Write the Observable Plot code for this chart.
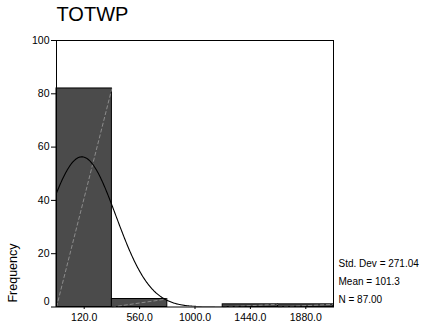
<!DOCTYPE html>
<html>
<head>
<meta charset="utf-8">
<script src="https://cdn.jsdelivr.net/npm/d3@7"></script>
<script src="https://cdn.jsdelivr.net/npm/@observablehq/plot@0.6"></script>
<style>
  body { margin: 0; background: #fff; }
  #chart svg { display: block; }
</style>
</head>
<body>
<div id="chart"></div>
<script>
// Histogram of TOTWP with fitted normal curve
const variableName = "TOTWP";
const binCenters = [120, 560, 1000, 1440, 1880];
const frequencies = [82, 3, 0, 1, 1];
const binWidth = 440;
const xTickLabels = ["120.0", "560.0", "1000.0", "1440.0", "1880.0"];
const yTicks = [0, 20, 40, 60, 80, 100];
const stdDev = 271.04;
const mean = 101.3;
const count = 87;
const statLines = [
  `Std. Dev = ${stdDev.toFixed(2)}`,
  `Mean = ${mean.toFixed(1)}`,
  `N = ${count.toFixed(2)}`
];

const bins = binCenters.map((c, i) => ({
  x1: c - binWidth / 2,
  x2: c + binWidth / 2,
  freq: frequencies[i]
}));
const filled = bins.filter(d => d.freq > 0);
const xMin = bins[0].x1;
const xMax = bins[bins.length - 1].x2;

// Normal density scaled to expected count per bin
const peak = count * binWidth / (stdDev * Math.sqrt(2 * Math.PI));
const curve = d3.range(xMin, xMax + 1, 5).map(x => ({
  x,
  y: peak * Math.exp(-0.5 * ((x - mean) / stdDev) ** 2)
}));

const chart = Plot.plot({
  width: 421,
  height: 330,
  marginLeft: 56,
  marginRight: 88,
  marginTop: 40,
  marginBottom: 23.5,
  style: { fontFamily: "'Liberation Sans', Arial, sans-serif", fontSize: "10px", background: "#fff" },
  x: { domain: [xMin, xMax] },
  y: { domain: [0, 100] },
  marks: [
    Plot.rect(filled, { x1: "x1", x2: "x2", y1: () => 0, y2: "freq", fill: "#4b4b4b", stroke: "#000", strokeWidth: 1 }),
    Plot.link(filled, { x1: "x1", y1: () => 0, x2: "x2", y2: "freq", stroke: "#a8a8a8", strokeWidth: 0.7, strokeDasharray: "4,2" }),
    Plot.line(curve, { x: "x", y: "y", stroke: "#000", strokeWidth: 1.1, clip: true }),
    Plot.frame({ stroke: "#000", strokeWidth: 1 }),
    Plot.axisY({ ticks: yTicks, tickSize: 5, tickPadding: 2, fontSize: 10.5, tickFormat: d => d === 0 ? "" : d, label: null }),
    Plot.text([0], { y: d => d, frameAnchor: "left", dx: -7, dy: -5, textAnchor: "end", fontSize: 10.5, text: d => String(d) }),
    Plot.axisX({ ticks: binCenters, tickSize: 2.5, tickPadding: 4, fontSize: 10.5, tickFormat: d => xTickLabels[binCenters.indexOf(d)], label: null }),
    Plot.text([variableName], { frameAnchor: "top-left", textAnchor: "start", lineAnchor: "bottom", dy: -20, fontSize: 20 }),
    Plot.text(["Frequency"], { frameAnchor: "bottom-left", rotate: -90, textAnchor: "middle", lineAnchor: "middle", dx: -43.5, dy: -34, fontSize: 12.5 }),
    Plot.text([statLines.join("\n")], { frameAnchor: "bottom-right", textAnchor: "start", lineAnchor: "bottom", lineHeight: 1.8, dx: 5, dy: -4.5, fontSize: 10 })
  ]
});

document.getElementById("chart").append(chart);
</script>
</body>
</html>
